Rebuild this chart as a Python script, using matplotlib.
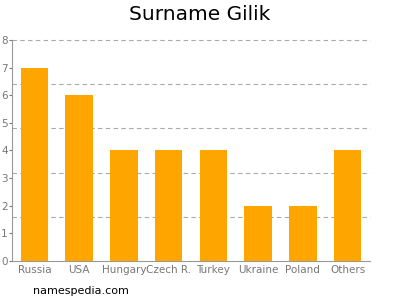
import matplotlib
matplotlib.use("Agg")
import matplotlib.pyplot as plt
import numpy as np

categories = ["Russia", "USA", "Hungary", "Czech R.", "Turkey", "Ukraine", "Poland", "Others"]
values = [7, 6, 4, 4, 4, 2, 2, 4]
yticks = [0, 1, 2, 3, 4, 5, 6, 7, 8]
gridlines = [1.6, 3.2, 4.8, 6.4, 8.0]

fig = plt.figure(figsize=(4, 3), dpi=100)
ax = fig.add_axes([0.03, 0.13, 0.895, 0.7367])
x = np.arange(len(categories))
ax.bar(x, values, width=0.62, color="#FFA500", zorder=3)
ax.set_xlim(-0.5, len(categories) - 0.5)
ax.set_ylim(0, 8)
ax.set_yticks(yticks)
for g in gridlines:
    ax.axhline(g, linestyle=(0, (4, 3)), color="#aaaaaa", linewidth=0.8, zorder=0, clip_on=False)
ax.set_xticks(x)
ax.set_xticklabels(categories)
ax.tick_params(axis="both", which="major", labelsize=7.5, colors="#777777", length=2, pad=1)
ax.tick_params(axis="x", length=0, pad=3)
for s in ["top", "right"]:
    ax.spines[s].set_visible(False)
for s in ["left", "bottom"]:
    ax.spines[s].set_color("#999999")
fig.text(0.5, 0.95, "Surname Gilik", ha="center", va="center", fontsize=14.5)
fig.text(0.083, 0.03, "namespedia.com", ha="left", va="center", fontsize=8)
fig.savefig("out.png", dpi=100)
